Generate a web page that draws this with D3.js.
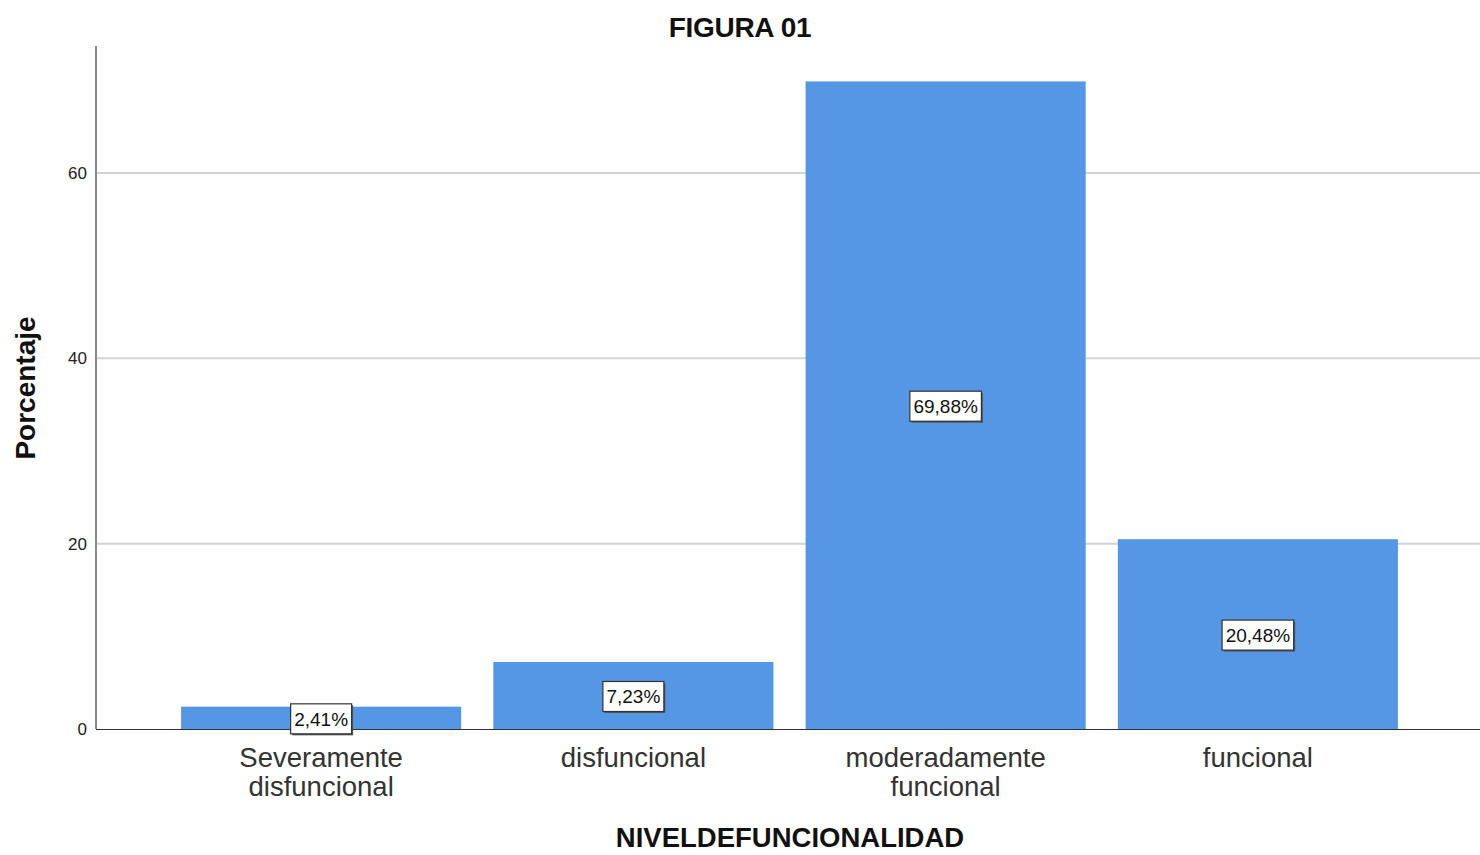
<!DOCTYPE html>
<html><head><meta charset="utf-8">
<script src="https://cdn.jsdelivr.net/npm/d3@7/dist/d3.min.js"></script>
<style>body{margin:0;background:#fff}svg{display:block}text{font-family:"Liberation Sans",Arial,sans-serif}</style>
</head><body>
<script>
const categories = [["Severamente","disfuncional"],["disfuncional"],["moderadamente","funcional"],["funcional"]];
const values = [2.41, 7.23, 69.88, 20.48];
const valueLabels = ["2,41%","7,23%","69,88%","20,48%"];
const yTicks = [0,20,40,60];

const W=1480,H=855;
const svg=d3.select("body").append("svg").attr("width",W).attr("height",H);
const pLeft=96,pRight=1480,pTop=46,pBottom=729;
const y=d3.scaleLinear().domain([0,73.7]).range([pBottom,pTop]);
const x=d3.scaleBand().domain(d3.range(values.length)).range([165,1414]).paddingInner(0.103).paddingOuter(0.0515);

// grid
svg.append("g").selectAll("line").data(yTicks.filter(d=>d>0)).join("line")
 .attr("x1",pLeft).attr("x2",pRight).attr("y1",d=>y(d)).attr("y2",d=>y(d))
 .attr("stroke","#d3d3d3").attr("stroke-width",2);

// bars
svg.append("g").selectAll("rect").data(values).join("rect")
 .attr("x",(d,i)=>x(i)).attr("width",x.bandwidth())
 .attr("y",d=>y(d)).attr("height",d=>pBottom-y(d))
 .attr("fill","#5596e5");

// axes
const ya=d3.axisLeft(y).tickValues(yTicks).tickSize(0).tickPadding(9);
const gy=svg.append("g").attr("transform",`translate(${pLeft},0)`).call(ya);
gy.select(".domain").remove();
gy.selectAll("text").attr("font-size",17).attr("fill","#222").attr("font-family","Liberation Sans, Arial, sans-serif");
svg.append("line").attr("x1",pLeft).attr("x2",pLeft).attr("y1",pTop).attr("y2",pBottom).attr("stroke","#8a8a8a").attr("stroke-width",2);
svg.append("line").attr("x1",pLeft).attr("x2",pRight).attr("y1",pBottom+0.5).attr("y2",pBottom+0.5).attr("stroke","#333").attr("stroke-width",1.2);

// category labels
const cl=svg.append("g").selectAll("text").data(categories).join("text")
 .attr("text-anchor","middle").attr("font-size",27.5).attr("fill","#333")
 .attr("transform",(d,i)=>`translate(${x(i)+x.bandwidth()/2},767)`);
cl.selectAll("tspan").data(d=>d).join("tspan").attr("x",0).attr("dy",(d,j)=>j?29:0).text(d=>d);

// value label boxes
const lg=svg.append("g").selectAll("g").data(values).join("g")
 .attr("transform",(d,i)=>`translate(${x(i)+x.bandwidth()/2},${y(d/2)+1})`);
lg.append("rect").attr("class","shadow").attr("fill","#555");
lg.append("rect").attr("class","box").attr("fill","#fff").attr("stroke","#333").attr("stroke-width",1.2);
lg.append("text").attr("text-anchor","middle").attr("dy","0.36em").attr("font-size",19).attr("fill","#111")
 .text((d,i)=>valueLabels[i]);
lg.each(function(){
  const g=d3.select(this);const bb=g.select("text").node().getBBox();
  const w=bb.width+7,h=30;
  g.select(".box").attr("x",-w/2).attr("y",-h/2).attr("width",w).attr("height",h);
  g.select(".shadow").attr("x",-w/2+1.5).attr("y",-h/2+1.5).attr("width",w).attr("height",h);
});

// titles
svg.append("text").attr("x",740).attr("y",37).attr("text-anchor","middle").attr("font-size",28).attr("font-weight","bold").attr("letter-spacing",-0.3).attr("fill","#111").text("FIGURA 01");
svg.append("text").attr("x",790).attr("y",847).attr("text-anchor","middle").attr("font-size",27.5).attr("font-weight","bold").attr("fill","#111").text("NIVELDEFUNCIONALIDAD");
svg.append("text").attr("transform","translate(35,388) rotate(-90)").attr("text-anchor","middle").attr("font-size",28).attr("font-weight","bold").attr("fill","#111").text("Porcentaje");
</script>
</body></html>
